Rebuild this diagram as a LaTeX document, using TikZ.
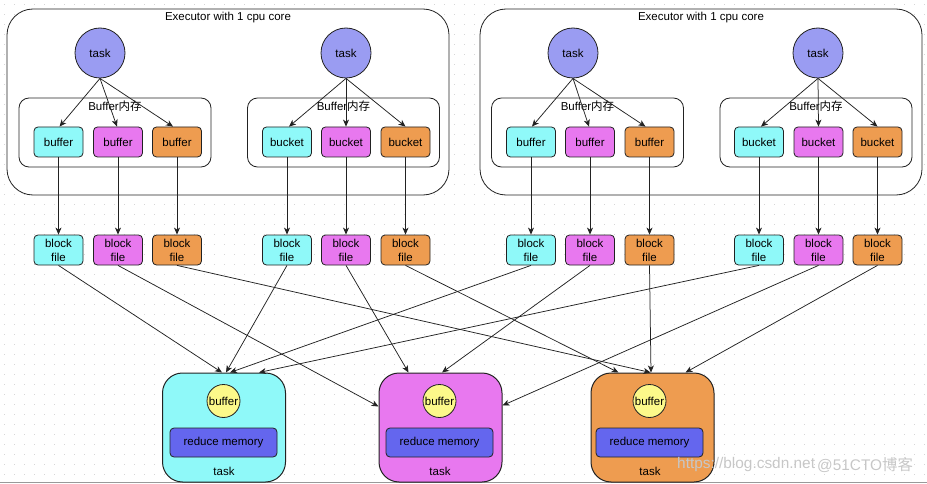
\documentclass[tikz,border=0pt]{standalone}
\usepackage{fontspec}
\setmainfont{Liberation Sans}
\newfontfamily\cjk{Noto Sans CJK SC}
\usetikzlibrary{arrows.meta,calc}
\definecolor{cyanF}{HTML}{8FF9F9}
\definecolor{magF}{HTML}{E878EF}
\definecolor{oraF}{HTML}{EE9C50}
\definecolor{taskF}{HTML}{9A9CF2}
\definecolor{yelF}{HTML}{FCF98A}
\definecolor{redF}{HTML}{6466EE}
\definecolor{lineC}{HTML}{222222}
\begin{document}
\begin{tikzpicture}[x=1pt,y=-1pt,
  txt/.style={font=\fontsize{11.5}{14}\selectfont, text=black},
  execbox/.style={draw=lineC, fill=white, rounded corners=26pt, line width=0.8pt, minimum width=442pt, minimum height=186pt, inner sep=0},
  bufbox/.style={draw=lineC, fill=white, rounded corners=10pt, line width=0.8pt, minimum width=192pt, minimum height=69pt, inner sep=0},
  tasknode/.style={txt, circle, draw=lineC, fill=taskF, minimum size=50pt, inner sep=0, line width=0.8pt},
  sq/.style={txt, rectangle, draw=lineC, rounded corners=4pt, minimum width=49pt, minimum height=30pt, inner sep=0, line width=0.8pt, align=center},
  bigtask/.style={draw=lineC, rounded corners=20pt, minimum width=123pt, minimum height=109pt, inner sep=0, line width=1pt},
  ybuf/.style={txt, circle, draw=lineC, fill=yelF, minimum size=33pt, inner sep=0, line width=0.8pt},
  redbox/.style={txt, rectangle, draw=lineC, fill=redF, rounded corners=4pt, minimum width=107pt, minimum height=29pt, inner sep=0, line width=0.8pt},
  arr/.style={draw=lineC, line width=0.75pt, -{Stealth[length=7pt,width=6pt,inset=2pt]}}
]
\useasboundingbox (0,0) rectangle (927,484);
% dotted grid background
\foreach \yy in {4,14,...,484}{
  \draw[black!16, line width=0.9pt, dash pattern=on 0.9pt off 9.1pt, dash phase=-4pt] (0,\yy) -- (927,\yy);
}
\draw[black!40, line width=0.8pt] (0,482.5) -- (927,482.5);

% executors
\foreach \n/\cx in {E1/228, E2/701}{
  \node[execbox] (\n) at (\cx,102) {};
  \node[txt, anchor=center] (\n t) at (\cx,17.5) {Executor with 1 cpu core};
}
% buffer boxes
\foreach \n/\cx in {B1/115, B2/343.5, B3/587.5, B4/816}{
  \node[bufbox] (\n) at (\cx,132.5) {};
  \node[txt] (\n t) at (\cx,106.5) {Buffer{\cjk 内存}};
}
% task circles
\node[tasknode] (k1) at (100,53) {task};
\node[tasknode] (k2) at (346,53) {task};
\node[tasknode] (k3) at (573,53) {task};
\node[tasknode] (k4) at (818,53) {task};

% buffers / buckets
\node[sq, fill=cyanF] (b1) at (58.5,142) {buffer};
\node[sq, fill=magF]  (b2) at (118,142) {buffer};
\node[sq, fill=oraF]  (b3) at (177,142) {buffer};
\node[sq, fill=cyanF] (b4) at (287,142) {bucket};
\node[sq, fill=magF]  (b5) at (346,142) {bucket};
\node[sq, fill=oraF]  (b6) at (405.5,142) {bucket};
\node[sq, fill=cyanF] (b7) at (531,142) {buffer};
\node[sq, fill=magF]  (b8) at (590,142) {buffer};
\node[sq, fill=oraF]  (b9) at (649.5,142) {buffer};
\node[sq, fill=cyanF] (b10) at (759,142) {bucket};
\node[sq, fill=magF]  (b11) at (818.5,142) {bucket};
\node[sq, fill=oraF]  (b12) at (877.5,142) {bucket};

% block files
\foreach \i/\cx/\col in {1/58.5/cyanF, 2/118/magF, 3/177/oraF, 4/287/cyanF, 5/346/magF, 6/405.5/oraF, 7/531/cyanF, 8/590/magF, 9/649.5/oraF, 10/759/cyanF, 11/818.5/magF, 12/877.5/oraF}{
  \node[sq, fill=\col] (f\i) at (\cx,250) {block\\file};
}

% task -> buffer arrows
\draw[arr] (k1.south) -- ([xshift=1pt]b1.north);
\draw[arr] (k1.south) -- ([xshift=-1pt]b2.north);
\draw[arr] (k1.south) -- ([xshift=-4pt]b3.north);
\draw[arr] (k2.south) -- ([xshift=2pt]b4.north);
\draw[arr] (k2.south) -- (b5.north);
\draw[arr] (k2.south) -- (b6.north);
\draw[arr] (k3.south) -- ([xshift=1pt]b7.north);
\draw[arr] (k3.south) -- ([xshift=-1pt]b8.north);
\draw[arr] (k3.south) -- ([xshift=-4pt]b9.north);
\draw[arr] (k4.south) -- ([xshift=2pt]b10.north);
\draw[arr] (k4.south) -- (b11.north);
\draw[arr] (k4.south) -- (b12.north);

% buffer -> block file
\foreach \i in {1,...,12}{
  \draw[arr] (b\i.south) -- (f\i.north);
}

% bottom tasks
\node[bigtask, fill=cyanF] (T1) at (224,427.5) {};
\node[bigtask, fill=magF]  (T2) at (440.5,427.5) {};
\node[bigtask, fill=oraF]  (T3) at (652.5,427.5) {};
\foreach \t/\cx in {T1/223.5, T2/439.5, T3/649.5}{
  \node[ybuf] (\t y) at (\cx,401) {buffer};
  \node[redbox] (\t r) at (\cx,442.5) {reduce memory};
  \node[txt] (\t l) at (\cx+0.5,471) {task};
}

% block file -> tasks
\draw[arr] (f1.south) -- ([xshift=-2pt]T1.north);
\draw[arr] (f4.south) -- ([xshift=2pt]T1.north);
\draw[arr] (f7.south) -- ([xshift=6pt]T1.north);
\draw[arr] (f10.south) -- ([xshift=35pt]T1.north);
\draw[arr] (f2.south) -- ([yshift=-34pt]T2.north west);
\draw[arr] (f5.south) -- ([xshift=-32pt]T2.north);
\draw[arr] (f8.south) -- ([xshift=1.5pt]T2.north);
\draw[arr] (f11.south) -- ([yshift=-33pt]T2.north east);
\draw[arr] (f3.south) -- ([xshift=-2pt]T3.north);
\draw[arr] (f6.south) -- ([xshift=-34pt]T3.north);
\draw[arr] (f9.south) -- ([xshift=-1.5pt]T3.north);
\draw[arr] (f12.south) -- ([xshift=33pt]T3.north);

% watermark
\node[font=\fontsize{15.4}{18}\selectfont, text=black!22, anchor=west, inner sep=0] (wm1) at (677,465) {https://blog.csdn.net};
\node[font=\fontsize{15.4}{18}\selectfont, text=black!22, anchor=west, inner sep=0] (wm2) at (817,465) {@51CTO{\cjk 博客}};
\end{tikzpicture}
\end{document}
